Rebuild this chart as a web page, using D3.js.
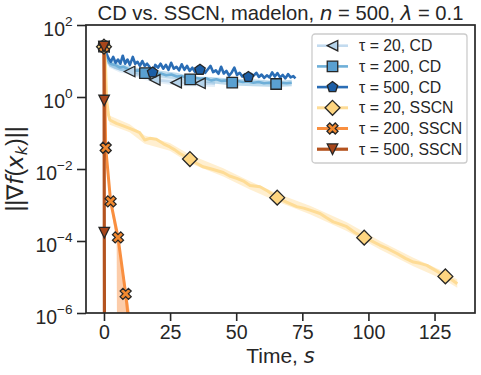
<!DOCTYPE html>
<html>
<head>
<meta charset="utf-8">
<script src="https://cdn.jsdelivr.net/npm/d3@7"></script>
<style>
body { margin: 0; background: #fff; }
text { font-family: "Liberation Sans", Arial, sans-serif; fill: #262626; }
.m { font-family: "DejaVu Sans"; font-style: italic; }
</style>
</head>
<body>
<div id="chart"></div>
<script>
// gradient norm ||grad f(x_k)|| vs time (s)
var cd20T = [0, 1, 2, 4, 6, 8, 9.7, 12, 14, 16, 17.5, 19.2, 21, 23, 25, 27.3, 29, 31, 33, 35, 36.3, 38, 40, 42]
var cd20G = [25, 10, 8, 6.5, 6, 5.4, 5.1, 4.3, 3.9, 3.5, 3.3, 3.0, 2.9, 2.8, 2.7, 2.5, 2.6, 2.4, 2.5, 2.3, 2.4, 2.3, 2.4, 2.3]
var cd20Mk = [0, 6, 11, 15, 20]

var cd200T = [0, 1, 2, 3, 4.5, 6, 7.5, 9, 10.5, 12, 13.5, 15.5, 17.5, 19.5, 21.5, 23.5, 25.5, 27.5, 29.5, 31, 32.6,
  34.5, 36.5, 38.5, 40.5, 42.5, 44.5, 46.5, 48.5, 50.5, 52.5, 54.5, 56.5, 58.5, 60.5, 62.5, 65.1, 67, 69, 71]
var cd200G = [25, 12, 9, 8.1, 7.6, 6.6, 6.9, 6.0, 5.8, 5.4, 5.5, 4.6, 4.9, 4.4, 4.5, 4.0, 4.2, 3.7, 3.8, 3.5, 3.1,
  3.4, 3.2, 3.3, 2.9, 3.1, 2.8, 2.9, 2.5, 2.8, 2.6, 2.7, 2.5, 2.6, 2.4, 2.5, 2.3, 2.5, 2.4, 2.5]
var cd200Mk = [0, 11, 20, 28, 36]

var cd500T = [0, 0.8, 1.7, 2.6, 3.5, 4.4, 5.3, 6.2, 7.1, 8.0, 8.9, 9.8, 10.9, 11.8, 12.7, 13.6, 14.5, 15.4, 16.3, 17.2,
  18.4, 19.4, 20.4, 21.4, 22.4, 23.4, 24.4, 25.4, 26.4, 27.4, 28.4, 29.4, 30.4, 31.4, 32.4, 33.4, 34.4, 35.4,
  36.3, 37.3, 38.3, 39.3, 40.3, 41.3, 42.3, 43.3, 44.3, 45.3, 46.3, 47.3, 48.3, 49.3, 50.3, 51.3, 52.3, 53.3,
  54.6, 55.6, 56.6, 57.6, 58.6, 59.6, 60.6, 61.6, 62.6, 63.6, 64.6, 65.6, 66.6, 67.6, 68.6, 69.6, 70.6, 71.6, 72.4]
var cd500G = [25, 17, 12, 9.5, 13, 8.9, 11, 8.4, 14, 8.4, 11, 7.8, 13, 8.4, 9.5, 7.3, 10, 7.3, 8.4, 6.9,
  4.8, 7.8, 6.5, 8.4, 6.1, 7.8, 5.7, 8.9, 6.1, 6.9, 5.5, 8.1, 5.7, 7.3, 5.3, 6.5, 5.0, 6.9,
  5.7, 6.5, 4.7, 5.9, 7.3, 4.9, 5.5, 4.4, 6.9, 4.5, 5.3, 3.9, 4.8, 6.5, 4.1, 4.7, 3.7, 4.3,
  3.6, 4.4, 3.9, 4.7, 3.6, 4.2, 3.4, 4.0, 3.5, 4.8, 3.7, 4.6, 3.5, 4.1, 3.3, 4.3, 3.5, 3.8, 3.3]
var cd500Mk = [0, 20, 38, 56]

var sscn20T = [0, 0.5, 1.0, 1.7, 2.2, 4.7, 7.0, 9.7, 12.0, 13.5, 15.4, 17.3, 19.8, 22.5, 24.9, 26.8, 28.7, 32.5,
  35.0, 37.5, 41.0, 45.1, 47.5, 50.2, 53.0, 55.2, 59.0, 62.0, 65.5, 69.0, 72.9, 75.5, 77.9, 81.7, 84.0, 86.7,
  89.0, 91.8, 95.0, 98.4, 101.5, 104.4, 107.5, 110.8, 114.0, 117.0, 119.5, 122.1, 125.5, 129.1, 131.5, 133.6]
var sscn20G = [25, 10.8, 0.83, 0.32, 0.23, 0.186, 0.16, 0.135, 0.115, 0.102, 0.064, 0.071, 0.067, 0.050, 0.041, 0.034, 0.027, 0.0189,
  0.0145, 0.0115, 0.0098, 0.0080, 0.0064, 0.0055, 0.0045, 0.0035, 0.0032, 0.0024, 0.0016, 0.0012, 0.0009, 0.00082, 0.00072, 0.00058, 0.00045, 0.00034,
  0.00030, 0.00025, 0.00017, 0.000124, 0.000098, 7.6e-5, 6.0e-5, 4.5e-5, 3.3e-5, 2.6e-5, 2.4e-5, 2.1e-5, 1.5e-5, 1.04e-5, 8.4e-6, 6.5e-6]
var sscn20Mk = [0, 17, 28, 39, 49]

var sscn200T = [0, 0.65, 2.5, 5.3, 8.2, 9.6]
var sscn200G = [25, 0.039, 0.00126, 1.26e-4, 3.4e-6, 4e-7]
var sscn200Mk = [0, 1, 2, 3, 4]

var sscn500T = [0, 0.05, 0.12, 0.2]
var sscn500G = [25, 0.8, 1.7e-4, 1e-8]
var sscn500Mk = [0, 1, 2]

// min / max bands over runs
var cd20BandT = [0, 2, 6, 9.7, 14, 19.2, 25, 31, 36.3, 42]
var cd20BandLo = [25, 6.5, 4.8, 4.2, 3.2, 2.5, 2.2, 2.0, 1.95, 1.9]
var cd20BandHi = [25, 10, 7.3, 6.2, 4.7, 3.6, 3.3, 2.9, 2.9, 2.8]

var cd200BandT = [0, 2, 6, 10.5, 15.5, 21.5, 27.5, 32.6, 40.5, 48.5, 56.5, 65.1, 71]
var cd200BandLo = [25, 7, 5.4, 4.6, 3.9, 3.5, 3.1, 2.6, 2.4, 2.1, 2.0, 1.9, 2.0]
var cd200BandHi = [25, 11, 8.2, 7.0, 5.8, 5.4, 4.7, 3.8, 3.6, 3.2, 3.1, 2.8, 3.0]

var sscn20BandT = [0, 1.0, 2.2, 9.7, 15.4, 24.9, 32.5, 45.1, 55.2, 65.5, 77.9, 91.8, 104.4, 117, 129.1, 133.6]
var sscn20BandLo = [25, 0.6, 0.17, 0.105, 0.05, 0.032, 0.0145, 0.0062, 0.0027, 0.00125, 0.00055, 0.00019, 5.8e-5, 2.0e-5, 8.0e-6, 5.0e-6]
var sscn20BandHi = [25, 1.1, 0.30, 0.175, 0.085, 0.053, 0.025, 0.0105, 0.0046, 0.0021, 0.00095, 0.00033, 1.0e-4, 3.4e-5, 1.35e-5, 8.5e-6]

var sscn200BandT = [0, 0.65, 2.5, 4.8, 5.0, 8.2, 9.8, 10.5]
var sscn200BandLo = [25, 0.033, 0.0011, 8e-5, 1e-8, 1e-8, 1e-8, 1e-8]
var sscn200BandHi = [25, 0.045, 0.0016, 2e-4, 1.8e-4, 6e-6, 1e-6, 1e-7]

var labels = ['τ = 20, CD', 'τ = 200, CD', 'τ = 500, CD', 'τ = 20, SSCN', 'τ = 200, SSCN', 'τ = 500, SSCN']
var xTicks = [0, 25, 50, 75, 100, 125]
var yTicks = [1e-6, 1e-4, 1e-2, 1, 1e2]
var xDomain = [-6.8, 140.3]
var yDomain = [1e-6, 1e2]

function zip(a, b, c) { return a.map(function(d, i) { return c ? [d, b[i], c[i]] : [d, b[i]] }) }

var series = [
  {t: cd20T, g: cd20G, mk: cd20Mk, band: zip(cd20BandT, cd20BandLo, cd20BandHi), line: '#c3dbef', face: '#b5d3ea', shape: 'triLeft', lw: 2.6},
  {t: cd200T, g: cd200G, mk: cd200Mk, band: zip(cd200BandT, cd200BandLo, cd200BandHi), line: '#6eafd8', face: '#5aa0d1', shape: 'square', lw: 2.6},
  {t: cd500T, g: cd500G, mk: cd500Mk, band: null, line: '#2a6db5', face: '#1c5ea6', shape: 'pentagon', lw: 2.6},
  {t: sscn20T, g: sscn20G, mk: sscn20Mk, band: zip(sscn20BandT, sscn20BandLo, sscn20BandHi), line: '#fedc96', face: '#fed580', shape: 'diamond', lw: 3},
  {t: sscn200T, g: sscn200G, mk: sscn200Mk, band: zip(sscn200BandT, sscn200BandLo, sscn200BandHi), line: '#f98f40', face: '#f2892f', shape: 'cross', lw: 3},
  {t: sscn500T, g: sscn500G, mk: sscn500Mk, band: null, line: '#b4531f', face: '#a8461a', shape: 'triDown', lw: 3.2}
]
series.forEach(function(s, i) { s.label = labels[i]; s.pts = zip(s.t, s.g) })

var W = 481, H = 375
var margin = {left: 86, right: 6, top: 25, bottom: 62}
var width = W - margin.left - margin.right
var height = H - margin.top - margin.bottom

var svg = d3.select('#chart').append('svg').attr('width', W).attr('height', H)
var g = svg.append('g').attr('transform', 'translate(' + margin.left + ',' + margin.top + ')')

var x = d3.scaleLinear().domain(xDomain).range([0, width])
var y = d3.scaleLog().domain(yDomain).range([height, 0])

// marker shapes, ms = marker size in px
var ms = 10.5
function markerPath(shape) {
  var r = ms / 2
  if (shape == 'triLeft') return 'M' + (-r) + ',0L' + r + ',' + (-r) + 'L' + r + ',' + r + 'Z'
  if (shape == 'triDown') return 'M0,' + r + 'L' + (-r) + ',' + (-r) + 'L' + r + ',' + (-r) + 'Z'
  if (shape == 'square') return 'M' + (-r) + ',' + (-r) + 'H' + r + 'V' + r + 'H' + (-r) + 'Z'
  if (shape == 'diamond') { var d = r * Math.SQRT2; return 'M0,' + (-d) + 'L' + d + ',0L0,' + d + 'L' + (-d) + ',0Z' }
  if (shape == 'pentagon') {
    return d3.range(5).map(function(k) {
      var a = -Math.PI / 2 + k * 2 * Math.PI / 5
      return (k ? 'L' : 'M') + (r * 1.05 * Math.cos(a)).toFixed(2) + ',' + (r * 1.05 * Math.sin(a)).toFixed(2)
    }).join('') + 'Z'
  }
  if (shape == 'cross') {
    var u = 1.95
    var pl = [[-1,-3],[1,-3],[1,-1],[3,-1],[3,1],[1,1],[1,3],[-1,3],[-1,1],[-3,1],[-3,-1],[-1,-1]]
    return pl.map(function(p, k) {
      var px = (p[0] - p[1]) / Math.SQRT2 * u, py = (p[0] + p[1]) / Math.SQRT2 * u
      return (k ? 'L' : 'M') + px.toFixed(2) + ',' + py.toFixed(2)
    }).join('') + 'Z'
  }
}

g.append('clipPath').attr('id', 'clip').append('rect').attr('width', width).attr('height', height)
var plot = g.append('g').attr('clip-path', 'url(#clip)')

var line = d3.line().x(function(d) { return x(d[0]) }).y(function(d) { return y(d[1]) })
var area = d3.area().x(function(d) { return x(d[0]) }).y0(function(d) { return y(d[1]) }).y1(function(d) { return y(d[2]) })

series.forEach(function(s) {
  if (s.band) plot.append('path').attr('d', area(s.band)).attr('fill', s.line).attr('opacity', 0.45)
  plot.append('path').attr('d', line(s.pts)).attr('fill', 'none').attr('stroke', s.line)
    .attr('stroke-width', s.lw).attr('stroke-linejoin', 'round')
})

series.forEach(function(s) {
  g.append('g').selectAll('path').data(s.mk.map(function(i) { return s.pts[i] })).enter()
    .append('path')
    .attr('d', markerPath(s.shape))
    .attr('transform', function(d) { return 'translate(' + x(d[0]) + ',' + y(d[1]) + ')' })
    .attr('fill', s.face).attr('stroke', '#262626').attr('stroke-width', 1.3).attr('stroke-linejoin', 'miter')
})

// axes
var xAxis = g.append('g').attr('transform', 'translate(0,' + height + ')')
  .call(d3.axisBottom(x).tickValues(xTicks).tickSize(8).tickPadding(5).tickFormat(d3.format('d')))
xAxis.selectAll('text').attr('font-size', 19.6).attr('fill', '#262626').attr('dy', '0.71em').attr('y', 12)

var yAxis = g.append('g').call(d3.axisLeft(y).tickValues(yTicks).tickSize(9).tickFormat(''))
yAxis.selectAll('.tick').each(function(d) {
  var e = Math.round(Math.log10(d))
  var t = d3.select(this).append('text').attr('x', -13.5).attr('y', 10.5)
    .attr('text-anchor', 'end').attr('font-size', 19.4).attr('fill', '#262626')
  t.append('tspan').text('10')
  t.append('tspan').attr('dy', -9.8).attr('font-size', 13.6).text(e < 0 ? '\u2212' + (-e) : e)
})
g.selectAll('.domain').remove()
g.selectAll('.tick line').attr('stroke', '#262626').attr('stroke-width', 1.6)

g.append('rect').attr('width', width).attr('height', height)
  .attr('fill', 'none').attr('stroke', '#262626').attr('stroke-width', 1.7)

// title and labels
var title = svg.append('text').attr('x', margin.left + width / 2).attr('y', 19.5)
  .attr('text-anchor', 'middle').attr('font-size', 20.2)
title.append('tspan').text('CD vs. SSCN, madelon, ')
title.append('tspan').attr('class', 'm').text('n')
title.append('tspan').text(' = 500, ')
title.append('tspan').attr('class', 'm').text('λ')
title.append('tspan').text(' = 0.1')

var xl = svg.append('text').attr('x', margin.left + width / 2).attr('y', 362.5)
  .attr('text-anchor', 'middle').attr('font-size', 21)
xl.append('tspan').text('Time, ')
xl.append('tspan').attr('class', 'm').text('s')

var yl = svg.append('text').attr('transform', 'translate(23,' + (margin.top + height / 2) + ') rotate(-90)')
  .attr('text-anchor', 'middle').attr('font-size', 23)
yl.append('tspan').text('||∇')
yl.append('tspan').attr('class', 'm').text('f')
yl.append('tspan').text('(')
yl.append('tspan').attr('class', 'm').text('x')
yl.append('tspan').attr('class', 'm').attr('font-size', 16).attr('dy', 4).text('k')
yl.append('tspan').attr('dy', -4).text(')||')

// legend
var lg = svg.append('g').attr('transform', 'translate(312,34)')
lg.append('rect').attr('width', 155).attr('height', 129).attr('rx', 3)
  .attr('fill', '#fff').attr('fill-opacity', 0.8).attr('stroke', '#cccccc').attr('stroke-width', 1.3)
series.forEach(function(s, i) {
  var ry = 11.7 + i * 20.7
  var row = lg.append('g').attr('transform', 'translate(0,' + ry + ')')
  row.append('line').attr('x1', 5).attr('x2', 36).attr('stroke', s.line).attr('stroke-width', s.lw)
  row.append('path').attr('d', markerPath(s.shape)).attr('transform', 'translate(20.5,0)')
    .attr('fill', s.face).attr('stroke', '#262626').attr('stroke-width', 1.3)
  row.append('text').attr('x', 47).attr('y', 5.5).attr('font-size', 15.8).text(s.label)
})
</script>
</body>
</html>
